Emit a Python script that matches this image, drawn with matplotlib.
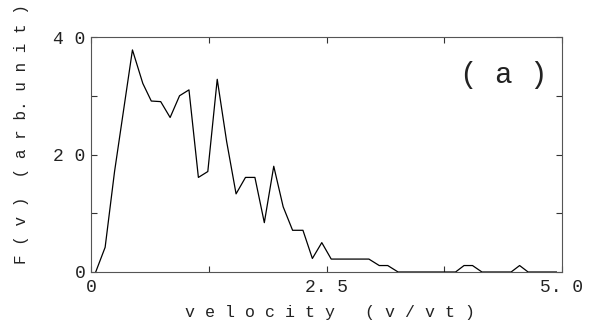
import numpy as np
import matplotlib
matplotlib.use('Agg')
import matplotlib.pyplot as plt

# velocity (v/vt) and F(v)
velocity = [0.05, 0.15, 0.25, 0.35, 0.44, 0.55, 0.64, 0.74, 0.84, 0.94, 1.04,
            1.14, 1.24, 1.34, 1.44, 1.54, 1.64, 1.74, 1.84, 1.94, 2.04, 2.14,
            2.25, 2.35, 2.45, 2.55, 2.65, 2.75, 2.85, 2.95, 3.06, 3.15, 3.26,
            3.36, 3.46, 3.56, 3.66, 3.76, 3.87, 3.96, 4.05, 4.15, 4.25, 4.35,
            4.46, 4.55, 4.64, 4.74, 4.84, 4.94]
fv = [0, 4.2, 17.1, 28.0, 37.8, 32.1, 29.1, 29.0, 26.3, 30.0, 31.0,
      16.1, 17.1, 32.8, 22.2, 13.3, 16.1, 16.1, 8.4, 18.0, 11.1, 7.1,
      7.1, 2.3, 5.0, 2.2, 2.2, 2.2, 2.2, 2.2, 1.1, 1.1, 0,
      0, 0, 0, 0, 0, 0, 1.1, 1.1, 0, 0, 0,
      0, 1.1, 0, 0, 0, 0]

xticks_major = [0, 2.5, 5.0]
xtick_labels = ['0', '2. 5', '5. 0']
xticks_minor = [1.25, 3.75]
yticks_major = [0, 20, 40]
ytick_labels = ['0', '2 0', '4 0']
yticks_minor = [10, 30]

font = 'Liberation Mono'

fig = plt.figure(figsize=(5.99, 3.32), dpi=100)
ax = fig.add_axes([91/599, (332-272)/332, (562-91)/599, (272-37)/332])

ax.plot(velocity, fv, color='black', linewidth=0.9)

ax.set_xlim(0, 5.0)
ax.set_ylim(0, 40)
ax.set_xticks(xticks_major)
ax.set_xticklabels(xtick_labels, family=font, fontsize=13)
ax.set_xticks(xticks_minor, minor=True)
ax.set_yticks(yticks_major)
ax.set_yticklabels(ytick_labels, family=font, fontsize=13)
ax.set_yticks(yticks_minor, minor=True)
ax.tick_params(which='both', direction='in', top=True, right=True,
               length=4, width=0.8, colors='#333333', labelcolor='#222222')
ax.tick_params(axis='x', pad=5)
ax.tick_params(axis='y', pad=4)
for s in ax.spines.values():
    s.set_linewidth(0.8)
    s.set_color('#555555')

ax.text(504/599, 1 - 75/332, '( a )', transform=fig.transFigure, ha='center',
        va='center', family=font, fontsize=21, color='#222222')

fig.text(330/599, 1 - 312/332, 'v e l o c i t y   ( v / v t )', ha='center',
         va='center', family=font, fontsize=12, color='#222222')
fig.text(22/599, 1 - 134/332, 'F ( v )  ( a r b. u n i t )', ha='center',
         va='center', rotation=90, family=font, fontsize=11.5, color='#222222')

fig.savefig('out.png', dpi=100)
